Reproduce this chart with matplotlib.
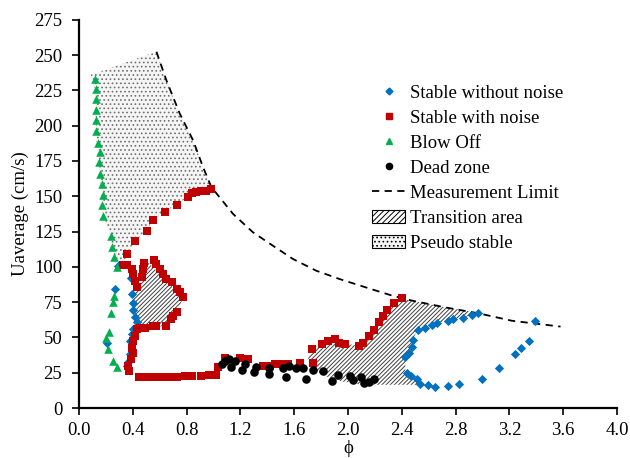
import matplotlib
matplotlib.use("Agg")
import matplotlib.pyplot as plt
from matplotlib.patches import Patch
from matplotlib.lines import Line2D

plt.rcParams['font.family'] = ['Liberation Serif', 'DejaVu Serif']
plt.rcParams['hatch.linewidth'] = 0.7

# Stable without noise (blue diamonds)
blue_phi = [0.267, 0.29, 0.386, 0.396, 0.398, 0.405, 0.413, 0.428, 0.403, 0.391,
            0.378, 0.205, 0.378, 0.366, 0.354,
            2.426, 2.45, 2.475, 2.48, 2.517, 2.574, 2.621, 2.658, 2.74, 2.784,
            2.856, 2.925, 2.967, 3.39, 3.346, 3.284, 3.242, 3.123, 2.995, 2.826,
            2.74, 2.648, 2.591, 2.535, 2.51, 2.468, 2.436]
blue_u = [84.3, 100.8, 92.0, 80.7, 74.3, 69.5, 64.6, 60.6, 56.3, 52.3,
          47.6, 45.9, 38.0, 32.7, 29.8,
          36.4, 39.3, 43.3, 48.3, 55.4, 57.0, 58.7, 60.4, 61.8, 63.4,
          64.1, 65.8, 67.2, 61.8, 47.6, 42.4, 38.6, 28.6, 20.8, 16.8,
          15.6, 14.9, 16.1, 17.3, 20.4, 22.7, 25.1]

# Stable with noise (red squares)
red_phi = [0.979, 0.942, 0.905, 0.873, 0.843, 0.809, 0.727, 0.638, 0.549, 0.504,
           0.415, 0.356, 0.354, 0.324, 0.391, 0.403, 0.415, 0.428, 0.465, 0.485,
           0.477, 0.559, 0.576, 0.601, 0.626, 0.65, 0.688, 0.725, 0.749, 0.774,
           0.732, 0.70, 0.683, 0.65, 0.576, 0.551, 0.49, 0.453, 0.428, 0.415,
           0.403, 0.396, 0.403, 0.386, 0.366, 0.373,
           0.445, 0.504, 0.564, 0.616, 0.675, 0.732, 0.786, 0.843, 0.905, 0.964,
           1.02, 1.036, 1.088, 1.194, 1.256, 1.367, 1.417, 1.46, 1.504, 1.553,
           1.644, 1.738, 1.733, 1.808, 1.85, 1.906, 1.936, 1.98, 2.08, 2.11,
           2.154, 2.196, 2.228, 2.258, 2.287, 2.344, 2.40]
red_u = [155.0, 154.0, 153.4, 152.7, 152.0, 149.4, 144.0, 139.0, 133.5, 125.7,
         118.0, 109.0, 101.6, 101.0, 98.5, 95.0, 90.0, 85.4, 92.5, 102.7,
         98.5, 105.0, 102.0, 98.5, 95.0, 91.4, 89.0, 84.3, 81.9, 79.0,
         68.0, 65.3, 63.4, 58.2, 57.8, 57.8, 57.0, 57.0, 56.3, 51.0,
         47.6, 42.8, 38.8, 34.5, 29.8, 26.3,
         22.3, 22.3, 22.3, 22.3, 22.3, 22.3, 22.6, 22.8, 23.0, 23.2,
         23.4, 29.0, 35.3, 35.3, 34.6, 29.8, 29.8, 31.0, 31.0, 31.0,
         31.7, 31.7, 41.7, 45.7, 47.6, 48.8, 46.4, 45.7, 44.0, 46.4,
         51.0, 55.1, 60.6, 65.3, 69.4, 74.1, 77.6]

# Blow off (green triangles)
green_phi = [0.12, 0.126, 0.126, 0.126, 0.126, 0.126, 0.14, 0.158, 0.148, 0.158,
             0.171, 0.178, 0.171, 0.178, 0.235, 0.247, 0.26, 0.28, 0.26, 0.25,
             0.235, 0.223, 0.20, 0.218, 0.25, 0.28]
green_u = [233, 226, 219, 211, 204, 196, 188, 181, 174, 166,
           159, 151, 144, 136, 122, 114, 107, 100, 79.5, 75,
           67, 54, 49.5, 41.6, 33.4, 29]

# Dead zone (black circles)
dead_phi = [1.066, 1.088, 1.115, 1.133, 1.162, 1.214, 1.231, 1.30, 1.318, 1.412,
            1.412, 1.516, 1.54, 1.56, 1.61, 1.664, 1.689, 1.743, 1.812, 1.882,
            1.929, 2.018, 2.04, 2.097, 2.122, 2.159, 2.196]
dead_u = [31.0, 33.4, 34.6, 29.3, 33.4, 27.0, 31.5, 25.8, 29.1, 28.1,
          23.9, 28.1, 22.3, 29.8, 28.6, 28.1, 20.8, 27.0, 26.3, 19.2,
          23.4, 22.7, 19.6, 22.3, 18.0, 18.5, 20.4]

# Measurement limit curve
limit_phi = [0.576, 0.65, 0.749, 0.848, 0.922, 0.984, 1.145, 1.293, 1.441, 1.59,
             1.763, 1.936, 2.134, 2.332, 2.48, 2.728, 2.975, 3.22, 3.58]
limit_u = [252.3, 232.0, 208.5, 189.6, 170.7, 156.5, 137.5, 124.5, 115.0, 105.6,
           97.3, 91.4, 85.4, 79.5, 76.0, 71.2, 67.0, 61.8, 57.7]

# Pseudo stable region outline
pseudo_phi = [0.087, 0.576, 0.65, 0.749, 0.848, 0.922, 0.984, 0.809, 0.727, 0.638,
              0.549, 0.504, 0.415, 0.356, 0.33, 0.28, 0.26, 0.245, 0.235, 0.178,
              0.16, 0.13, 0.12]
pseudo_u = [236, 252.3, 232.0, 208.5, 189.6, 170.7, 156.5, 149.4, 144.0, 139.0,
            133.5, 125.7, 118.0, 109.0, 101.0, 100.0, 107, 115, 122, 136,
            160, 188, 225]

# Transition areas outlines
trans1_phi = [0.514, 0.774, 0.749, 0.688, 0.638, 0.415, 0.41, 0.396, 0.44, 0.49]
trans1_u = [103.2, 78.3, 72.0, 64.0, 58.0, 57.0, 65.0, 80.7, 85.4, 93.7]

trans2_phi = [1.70, 1.733, 1.808, 1.85, 1.906, 1.936, 1.98, 2.08, 2.11, 2.154,
              2.196, 2.228, 2.258, 2.287, 2.344, 2.40, 2.48, 2.728, 2.975, 2.925,
              2.856, 2.784, 2.74, 2.658, 2.621, 2.574, 2.517, 2.48, 2.475, 2.45,
              2.426, 2.426, 2.468, 2.51, 2.535, 2.55, 2.10, 1.95, 1.85, 1.75]
trans2_u = [34.6, 41.7, 45.7, 47.6, 48.8, 46.4, 45.7, 44.0, 46.4, 51.0,
            55.1, 60.6, 65.3, 69.4, 74.1, 77.6, 76.0, 71.2, 67.5, 65.8,
            64.1, 63.4, 61.8, 60.4, 58.7, 57.0, 55.4, 48.3, 43.3, 39.3,
            36.4, 25.1, 22.7, 20.4, 17.3, 16.5, 16.5, 19.0, 22.0, 27.0]

fig = plt.figure(figsize=(6.3, 4.58), dpi=100)
ax = fig.add_axes([0.1254, 0.109, 0.854, 0.848])

ax.fill(pseudo_phi, pseudo_u, facecolor='#f5f5f5', edgecolor='#707070',
        hatch='....', linewidth=0, zorder=1)
ax.fill(trans1_phi, trans1_u, facecolor='white', edgecolor='#404040',
        hatch='////////', linewidth=0, zorder=1)
ax.fill(trans2_phi, trans2_u, facecolor='white', edgecolor='#404040',
        hatch='////////', linewidth=0, zorder=1)

ax.plot(limit_phi, limit_u, color='black', linestyle=(0, (4, 3)), linewidth=1.3, zorder=2)

ax.scatter(blue_phi, blue_u, marker='D', s=22, color='#0070C0', linewidths=0, zorder=3)
ax.scatter(red_phi, red_u, marker='s', s=40, color='#C00000', linewidths=0, zorder=4)
ax.scatter(green_phi, green_u, marker='^', s=38, color='#00B050', linewidths=0, zorder=4)
ax.scatter(dead_phi, dead_u, marker='o', s=38, color='black', linewidths=0, zorder=5)

ax.set_xlim(0, 4.0)
ax.set_ylim(0, 275)
ax.set_xticks([i * 0.4 for i in range(11)])
ax.set_xticklabels([f'{i * 0.4:.1f}' for i in range(11)])
ax.set_yticks(range(0, 276, 25))
ax.tick_params(labelsize=13.5, direction='out', length=5, width=1.2)
ax.tick_params(axis='y', pad=7)
ax.tick_params(axis='x', pad=5)
ax.spines['top'].set_visible(False)
ax.spines['right'].set_visible(False)
ax.spines['left'].set_linewidth(1.6)
ax.spines['bottom'].set_linewidth(1.6)

ax.set_xlabel('ϕ', fontsize=13.5, labelpad=1)
ax.set_ylabel('Uaverage (cm/s)', fontsize=13.5, labelpad=4)

handles = [
    Line2D([], [], marker='D', color='#0070C0', linestyle='none', markersize=3.5),
    Line2D([], [], marker='s', color='#C00000', linestyle='none', markersize=4.5),
    Line2D([], [], marker='^', color='#00B050', linestyle='none', markersize=4.5),
    Line2D([], [], marker='o', color='black', linestyle='none', markersize=4.5),
    Line2D([], [], color='black', linestyle=(0, (4, 3)), linewidth=1.3),
    Patch(facecolor='white', edgecolor='black', hatch='//////', linewidth=0.8),
    Patch(facecolor='#f5f5f5', edgecolor='black', hatch='....', linewidth=0.8),
]
labels = ['Stable without noise', 'Stable with noise', 'Blow Off', 'Dead zone',
          'Measurement Limit', 'Transition area', 'Pseudo stable']
ax.legend(handles, labels, loc='upper left', bbox_to_anchor=(0.528, 0.857),
          frameon=False, fontsize=13.5, handlelength=1.75, handletextpad=0.25,
          labelspacing=0.42, borderpad=0)

fig.savefig('out.png', dpi=100)
